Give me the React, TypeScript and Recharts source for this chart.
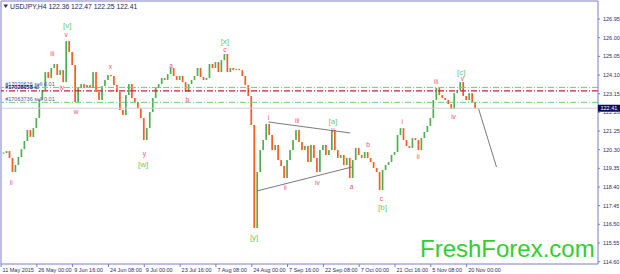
import React from "react";
import {
  ComposedChart,
  Bar,
  XAxis,
  YAxis,
  ReferenceLine,
  ReferenceDot,
} from "recharts";

// H4 bars: one point every 5 bars
const FIRST_BAR = 5;
const BAR_STEP = 5;

const closes = [
  120.13, 120.23, 119.88, 119.16, 119.52, 119.93, 120.33, 120.74, 121.3, 120.95,
  121.4, 121.91, 122.83, 123.34, 124.25, 123.95, 124.46, 124.66, 124.1, 124.35,
  123.74, 125.83, 125.27, 124.61, 122.73, 123.44, 123.64, 123.44, 123.59, 123.44,
  124.25, 123.24, 122.83, 123.54, 123.85, 124.1, 124.05, 123.59, 123.24, 122.32,
  122.06, 123.08, 123.64, 122.93, 122.73, 122.42, 121.91, 120.79, 121.4, 122.22,
  122.93, 123.44, 123.64, 123.95, 123.85, 124.15, 124.46, 124.05, 123.85, 124.05,
  123.74, 123.24, 123.64, 123.85, 124.05, 124.46, 124.0, 123.85, 123.95, 124.66,
  124.46, 124.76, 124.25, 124.86, 125.17, 124.25, 124.46, 124.35, 124.41, 124.35,
  124.05, 123.59, 123.03, 121.56, 116.31, 119.16, 120.28, 120.79, 121.61, 121.05,
  120.28, 120.54, 119.77, 119.47, 118.86, 119.77, 120.28, 120.79, 121.3, 120.69,
  120.28, 120.49, 119.67, 120.54, 119.88, 119.16, 120.28, 120.54, 120.03, 120.28,
  121.3, 120.28, 119.88, 120.03, 119.52, 119.88, 118.86, 119.77, 120.39, 120.03,
  119.88, 120.18, 119.88, 119.67, 119.37, 119.16, 118.25, 119.27, 119.52, 119.67,
  120.03, 120.18, 121.05, 121.4, 120.79, 120.49, 120.39, 120.89, 120.79, 120.28,
  120.89, 121.2, 121.51, 121.91, 122.83, 123.44, 123.08, 122.93, 122.83, 122.62,
  122.37, 123.18, 123.34, 123.74, 123.03, 122.83, 123.18, 122.73, 122.41,
];

const dateTicks = [0, 60, 120, 180, 240, 300, 360, 420, 480, 540, 600, 660, 720, 780];
const dateLabels = [
  "11 May 2015",
  "26 May 00:00",
  "9 Jun 16:00",
  "24 Jun 08:00",
  "9 Jul 00:00",
  "23 Jul 16:00",
  "7 Aug 08:00",
  "24 Aug 00:00",
  "7 Sep 16:00",
  "22 Sep 08:00",
  "7 Oct 00:00",
  "21 Oct 16:00",
  "5 Nov 08:00",
  "20 Nov 00:00",
];

const priceTicks = [
  126.95, 126.0, 125.05, 124.1, 123.15, 122.2, 121.25, 120.3, 119.35, 118.4,
  117.45, 116.5, 115.55, 114.6,
];

const bidPrice = 122.41;
const titleText = "USDJPY,H4  122.36 122.47 122.25 122.41";

// open orders: take-profit / stop levels
const orderPrices = [123.47, 123.29, 122.71];
const orderTexts = ["#17020626 sell 0.01", "#17028058 sl", "#17063736 sell 0.01"];

// Elliott wave marks (bracketed = higher degree)
const waveMarks = [
  { t: "ii", bar: 17, price: 118.65 },
  { t: "iii", bar: 86, price: 125.22 },
  { t: "iv", bar: 102, price: 123.49 },
  { t: "v", bar: 109, price: 126.14 },
  { t: "[v]", bar: 111, price: 126.64 },
  { t: "w", bar: 126, price: 122.22 },
  { t: "x", bar: 183, price: 124.51 },
  { t: "y", bar: 240, price: 120.13 },
  { t: "[w]", bar: 238, price: 119.57 },
  { t: "a", bar: 285, price: 124.61 },
  { t: "b", bar: 312, price: 122.83 },
  { t: "c", bar: 375, price: 125.42 },
  { t: "[x]", bar: 375, price: 125.83 },
  { t: "[y]", bar: 424, price: 115.81 },
  { t: "i", bar: 448, price: 121.96 },
  { t: "ii", bar: 476, price: 118.4 },
  { t: "iii", bar: 496, price: 121.81 },
  { t: "iv", bar: 530, price: 118.65 },
  { t: "[a]", bar: 556, price: 121.71 },
  { t: "v", bar: 556, price: 121.35 },
  { t: "a", bar: 587, price: 118.45 },
  { t: "b", bar: 615, price: 120.54 },
  { t: "c", bar: 637, price: 117.84 },
  { t: "[b]", bar: 639, price: 117.38 },
  { t: "i", bar: 672, price: 121.76 },
  { t: "ii", bar: 699, price: 119.93 },
  { t: "iii", bar: 729, price: 123.79 },
  { t: "iv", bar: 758, price: 122.01 },
  { t: "[c]", bar: 771, price: 124.25 },
  { t: "v", bar: 773, price: 123.9 },
];

// triangle borders + projected move
const trendSegments = [
  [{ bar: 448, price: 121.71 }, { bar: 585, price: 121.15 }],
  [{ bar: 429, price: 118.2 }, { bar: 588, price: 119.42 }],
  [{ bar: 800, price: 122.38 }, { bar: 830, price: 119.42 }],
];

const UP = "#4caf50";
const DOWN = "#ff5a1f";
const NAVY = "#2b2b6b";
const FRAME = "#7c7cc4";
const FONT = "'Liberation Sans', Arial, sans-serif";

const rows = closes.map((c, i) => {
  const prev = i === 0 ? c : closes[i - 1];
  return {
    bar: FIRST_BAR + i * BAR_STEP,
    range: [Math.min(prev, c), Math.max(prev, c)],
    up: c >= prev,
  };
});

const CandleShape = (props: any) => {
  const { x, y, width, height, payload } = props;
  const top = Math.min(y, y + height);
  const h = Math.abs(height);
  const hh = Math.max(h, 1.2);
  const cx = x + width / 2;
  return (
    <rect
      x={cx - 0.85}
      y={top - (hh - h) / 2}
      width={1.7}
      height={hh}
      fill={payload.up ? UP : DOWN}
    />
  );
};

const DateTick = (props: any) => {
  const { x, y, payload, index } = props;
  return (
    <text
      x={x + 1.5}
      y={y + 3}
      fontSize={5.5}
      fontFamily={FONT}
      fill={NAVY}
      textAnchor="start"
    >
      {dateLabels[index] ?? payload.value}
    </text>
  );
};

const PriceTick = (props: any) => {
  const { x, y, payload } = props;
  return (
    <text
      x={x + 1}
      y={y}
      fontSize={5.5}
      fontFamily={FONT}
      fill={NAVY}
      textAnchor="start"
      dominantBaseline="central"
    >
      {Number(payload.value).toFixed(2)}
    </text>
  );
};

export default function App() {
  return (
    <div style={{ position: "absolute", left: 0, top: 0, width: 620, height: 274, background: "#fff" }}>
      <ComposedChart
        width={620}
        height={274}
        data={rows}
        margin={{ top: 1, right: 0, bottom: 0, left: 1 }}
      >
        <XAxis
          type="number"
          dataKey="bar"
          domain={[0, 1000]}
          ticks={dateTicks}
          interval={0}
          height={10}
          tickSize={3}
          tick={<DateTick />}
          axisLine={{ stroke: FRAME }}
          tickLine={{ stroke: FRAME }}
          allowDataOverflow
        />
        <YAxis
          orientation="right"
          width={22}
          domain={[114.48, 127.87]}
          ticks={priceTicks}
          interval={0}
          tickSize={2}
          tick={<PriceTick />}
          axisLine={{ stroke: FRAME }}
          tickLine={{ stroke: FRAME }}
          allowDataOverflow
        />
        {/* top + left frame */}
        <ReferenceLine y={127.87} stroke={FRAME} ifOverflow="extendDomain" />
        <ReferenceLine x={0} stroke={FRAME} ifOverflow="extendDomain" />

        <ReferenceLine y={bidPrice} stroke="#cfcfcf" strokeWidth={1} />
        <ReferenceLine y={orderPrices[0]} stroke="#6fd26f" strokeDasharray="6 2 1 2" />
        <ReferenceLine y={orderPrices[1]} stroke="#d3173c" strokeWidth={1.3} strokeDasharray="6 2 1 2" />
        <ReferenceLine y={orderPrices[2]} stroke="#6fd26f" strokeDasharray="6 2 1 2" />

        <Bar
          dataKey="range"
          barSize={2}
          shape={<CandleShape />}
          isAnimationActive={false}
        />

        {trendSegments.map((seg, i) => (
          <ReferenceLine
            key={`seg-${i}`}
            segment={[
              { x: seg[0].bar, y: seg[0].price },
              { x: seg[1].bar, y: seg[1].price },
            ]}
            stroke="#6a6a6a"
            strokeWidth={0.9}
          />
        ))}

        {orderTexts.map((t, i) => (
          <ReferenceDot
            key={`ord-${i}`}
            x={7}
            y={orderPrices[i]}
            r={0}
            shape={(p: any) => (
              <text
                x={p.cx}
                y={p.cy - 1.5}
                fontSize={5.5}
                fontFamily={FONT}
                fontWeight={i === 1 ? "bold" : "normal"}
                fill={i === 1 ? "#10106a" : "#4a5a9a"}
              >
                {t}
              </text>
            )}
          />
        ))}

        {waveMarks.map((m, i) => {
          const major = m.t.startsWith("[");
          return (
            <ReferenceDot
              key={`w-${i}`}
              x={m.bar}
              y={m.price}
              r={0}
              shape={(p: any) => (
                <text
                  x={p.cx}
                  y={p.cy}
                  textAnchor="middle"
                  dominantBaseline="central"
                  fontSize={major ? 8 : 6.5}
                  fontFamily={FONT}
                  fill={major ? "#6cc86c" : "#ef5068"}
                >
                  {m.t}
                </text>
              )}
            />
          );
        })}

        <ReferenceDot
          x={1000}
          y={bidPrice}
          r={0}
          shape={(p: any) => (
            <g>
              <rect x={p.cx} y={p.cy - 3.5} width={22} height={7} fill="#0b0b66" />
              <text
                x={p.cx + 2.5}
                y={p.cy}
                fontSize={5.5}
                fontFamily={FONT}
                fill="#ffffff"
                dominantBaseline="central"
              >
                {bidPrice.toFixed(2)}
              </text>
            </g>
          )}
        />
      </ComposedChart>

      <svg
        width={620}
        height={274}
        style={{ position: "absolute", left: 0, top: 0, pointerEvents: "none" }}
      >
        <path d="M3.5 4.5 L8 4.5 L5.75 8 Z" fill={NAVY} />
        <text x={10} y={8.5} fontSize={6.8} fontFamily={FONT} fill="#1c1c5c">
          {titleText}
        </text>
        <text x={420} y={256.7} fontSize={24} fontFamily={FONT} fill="#33cc33">
          FreshForex.com
        </text>
      </svg>
    </div>
  );
}
